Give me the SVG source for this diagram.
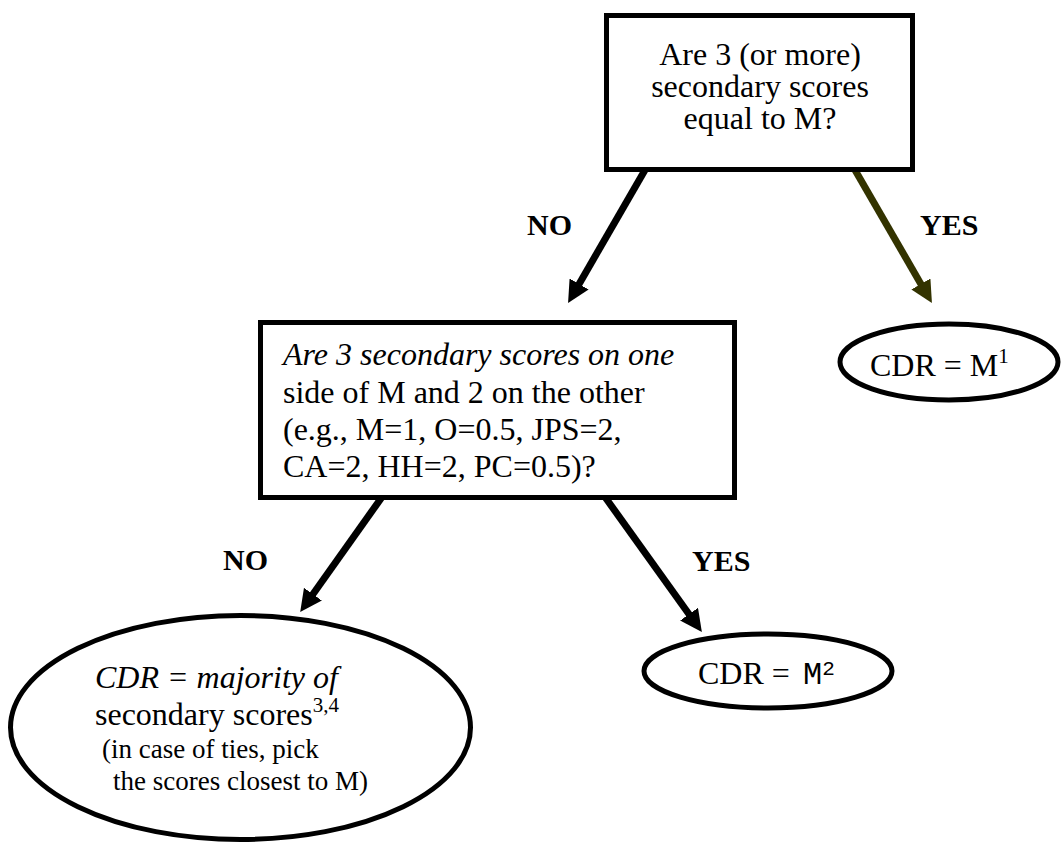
<svg xmlns="http://www.w3.org/2000/svg" width="1062" height="844" viewBox="0 0 1062 844">
<defs>
<style>
.box{fill:#fff;stroke:#000;stroke-width:5}
.ell{fill:#fff;stroke:#000;stroke-width:5}
.t{font-family:"Liberation Serif","Times New Roman",serif;font-size:32px;fill:#000}
.i{font-style:italic}
.lbl{font-family:"Liberation Serif","Times New Roman",serif;font-size:30px;font-weight:bold;fill:#000}
.sm{font-size:27px}
.mono{font-family:"Liberation Mono","Courier New",monospace}
.conn{stroke:#000;stroke-width:7;fill:none}
.olive{stroke:#333300}
</style>
<marker id="ah" markerUnits="userSpaceOnUse" viewBox="0 0 22 22" markerWidth="22" markerHeight="22" refX="8" refY="11" orient="auto">
<path d="M0,0 L22,11 L0,22 Z" fill="#000"/>
</marker>
<marker id="aho" markerUnits="userSpaceOnUse" viewBox="0 0 22 22" markerWidth="22" markerHeight="22" refX="8" refY="11" orient="auto">
<path d="M0,0 L22,11 L0,22 Z" fill="#333300"/>
</marker>
</defs>
<rect width="1062" height="844" fill="#fff"/>
<g id="connectors">
<line class="conn" x1="645" y1="170" x2="575.1" y2="290.9" marker-end="url(#ah)"/>
<line class="conn olive" x1="855" y1="170" x2="924.9" y2="290.9" marker-end="url(#aho)"/>
<line class="conn" x1="382" y1="497" x2="308.3" y2="600.7" marker-end="url(#ah)"/>
<line class="conn" x1="605" y1="497" x2="693.7" y2="620.7" marker-end="url(#ah)"/>
<text class="lbl" x="527" y="235">NO</text>
<text class="lbl" x="920" y="235">YES</text>
<text class="lbl" x="223" y="570">NO</text>
<text class="lbl" x="692" y="571">YES</text>
</g>
<g id="q1">
<rect class="box" x="606.5" y="15.5" width="306" height="154"/>
<text class="t" x="760" y="65" text-anchor="middle">Are 3 (or more)</text>
<text class="t" x="760" y="97" text-anchor="middle">secondary scores</text>
<text class="t" x="760" y="129" text-anchor="middle">equal to M?</text>
</g>
<g id="r1">
<ellipse class="ell" cx="949" cy="362" rx="109" ry="38"/>
<text class="t" x="870" y="376">CDR = M<tspan font-size="21" dy="-13">1</tspan></text>
</g>
<g id="q2">
<rect class="box" x="260.5" y="322.5" width="474" height="175"/>
<text class="t i" x="283" y="365">Are 3 secondary scores on one</text>
<text class="t" x="283" y="403">side of M and 2 on the other</text>
<text class="t" x="283" y="440">(e.g., M=1, O=0.5, JPS=2,</text>
<text class="t" x="283" y="477">CA=2, HH=2, PC=0.5)?</text>
</g>
<g id="r2">
<ellipse class="ell" cx="768" cy="671" rx="124" ry="37"/>
<text class="t" x="698" y="684">CDR = <tspan class="mono" x="803" font-size="32">M</tspan><tspan class="mono" font-size="21" dy="-9">2</tspan></text>
</g>
<g id="r3">
<ellipse class="ell" cx="240.5" cy="727.5" rx="230" ry="112"/>
<text class="t i" x="95" y="688">CDR = majority of</text>
<text class="t" x="95" y="725">secondary scores<tspan font-size="21" dy="-13">3,4</tspan></text>
<text class="t sm" x="102" y="758">(in case of ties, pick</text>
<text class="t sm" x="113" y="790">the scores closest to M)</text>
</g>
</svg>
